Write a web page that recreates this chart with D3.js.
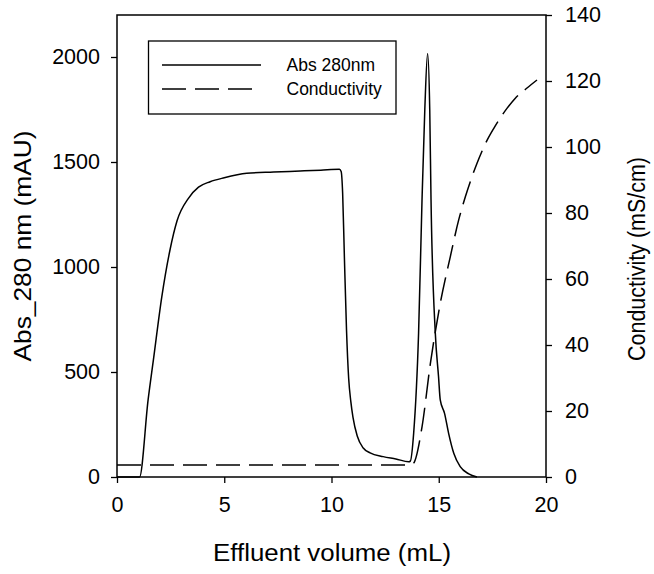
<!DOCTYPE html>
<html lang="en">
<head>
<meta charset="UTF-8">
<title>Abs 280 and conductivity vs effluent volume</title>
<script src="https://d3js.org/d3.v7.min.js"></script>
<style>
  body { margin: 0; background: #fff; }
  svg { display: block; font-family: "Liberation Sans", Arial, sans-serif; }
  .tick text { font-size: 21.5px; fill: #000; }
  .tick line { stroke: #000; stroke-width: 1.3; }
  .domain { display: none; }
</style>
</head>
<body>
<svg width="654" height="574"></svg>
<script>
  // effluent volume (mL) / absorbance (mAU)
  const absVolume = [0, 1.05, 1.45, 1.7, 2.09, 2.47, 2.8, 3.33, 3.8, 4.34, 5, 6.05, 7.3, 8.54, 9.5, 10.37,
    10.45, 10.52, 10.6, 10.7, 10.8, 10.9, 11.0, 11.2, 11.48, 11.8, 12.41, 13.0, 13.6,
    13.67, 13.83, 14.06, 14.22, 14.35, 14.48, 14.58, 14.64, 14.84, 14.99, 15.07, 15.27, 15.46, 15.7, 16.0, 16.4, 16.78];
  const absValue = [0, 0, 367, 560, 859, 1081, 1220, 1327, 1380, 1406, 1425, 1446, 1452, 1457, 1461, 1465,
    1455, 1350, 1050, 700, 470, 360, 285, 195, 138, 115, 97, 86, 73,
    75, 208, 686, 1319, 1750, 2017, 1750, 1319, 684, 478, 367, 303, 208, 113, 49, 15, 0];

  // effluent volume (mL) / conductivity (mS/cm)
  const condVolume = [0, 5, 10, 13.45, 13.7, 13.83, 14.22, 14.61, 15.07, 15.54, 15.93, 16.24, 16.78, 17.25, 17.56, 18.18, 18.57, 19.1, 19.58];
  const condValue = [3.6, 3.6, 3.6, 3.6, 3.7, 4.2, 15.2, 34.4, 52.6, 66.8, 77.9, 84.9, 95, 102, 105.6, 111.7, 114.8, 117.8, 120.3];

  const xTicks = [0, 5, 10, 15, 20];
  const leftTicks = [0, 500, 1000, 1500, 2000];
  const rightTicks = [0, 20, 40, 60, 80, 100, 120, 140];

  const svg = d3.select('svg');
  const plotLeft = 117, plotRight = 546, plotTop = 15, plotBottom = 477;

  const x = d3.scaleLinear().domain([0, 20]).range([plotLeft, plotRight]);
  const yAbs = d3.scaleLinear().domain([0, 2200]).range([plotBottom, plotTop]);
  const yCond = d3.scaleLinear().domain([0, 140]).range([plotBottom, plotTop]);

  svg.append('g')
    .attr('transform', `translate(0,${plotBottom})`)
    .call(d3.axisBottom(x).tickValues(xTicks).tickFormat(d3.format('d'))
      .tickSize(6).tickSizeOuter(0).tickPadding(14));

  svg.append('g')
    .attr('transform', `translate(${plotLeft},0)`)
    .call(d3.axisLeft(yAbs).tickValues(leftTicks).tickFormat(d3.format('d'))
      .tickSize(6).tickSizeOuter(0).tickPadding(11));

  svg.append('g')
    .attr('transform', `translate(${plotRight},0)`)
    .call(d3.axisRight(yCond).tickValues(rightTicks).tickFormat(d3.format('d'))
      .tickSize(6).tickSizeOuter(0).tickPadding(13));

  // frame
  svg.append('rect')
    .attr('x', plotLeft).attr('y', plotTop)
    .attr('width', plotRight - plotLeft).attr('height', plotBottom - plotTop)
    .attr('fill', 'none').attr('stroke', '#000').attr('stroke-width', 1.5);

  const absLine = d3.line()
    .x((d, i) => x(absVolume[i]))
    .y((d) => yAbs(d))
    .curve(d3.curveMonotoneX);

  const condLine = d3.line()
    .x((d, i) => x(condVolume[i]))
    .y((d) => yCond(d))
    .curve(d3.curveMonotoneX);

  svg.append('path')
    .attr('d', absLine(absValue))
    .attr('fill', 'none').attr('stroke', '#000').attr('stroke-width', 1.5);

  svg.append('path')
    .attr('d', condLine(condValue))
    .attr('fill', 'none').attr('stroke', '#000').attr('stroke-width', 1.5)
    .attr('stroke-dasharray', '24,9');

  // legend
  const legend = svg.append('g');
  legend.append('rect')
    .attr('x', 148.5).attr('y', 41).attr('width', 247.5).attr('height', 73)
    .attr('fill', '#fff').attr('stroke', '#000').attr('stroke-width', 1.3);
  legend.append('line')
    .attr('x1', 162).attr('x2', 261).attr('y1', 65).attr('y2', 65)
    .attr('stroke', '#000').attr('stroke-width', 1.3);
  legend.append('line')
    .attr('x1', 162).attr('x2', 261).attr('y1', 89).attr('y2', 89)
    .attr('stroke', '#000').attr('stroke-width', 1.3)
    .attr('stroke-dasharray', '24,9');
  legend.append('text')
    .attr('x', 286.5).attr('y', 71)
    .attr('font-size', 17.5)
    .text('Abs 280nm');
  legend.append('text')
    .attr('x', 286.5).attr('y', 95)
    .attr('font-size', 17.5)
    .text('Conductivity');

  // axis titles
  svg.append('text')
    .attr('x', 332).attr('y', 561)
    .attr('text-anchor', 'middle')
    .attr('font-size', 23.5)
    .attr('textLength', 238)
    .attr('lengthAdjust', 'spacingAndGlyphs')
    .text('Effluent volume (mL)');

  svg.append('text')
    .attr('transform', 'translate(31,246) rotate(-90)')
    .attr('text-anchor', 'middle')
    .attr('font-size', 24)
    .attr('textLength', 231)
    .attr('lengthAdjust', 'spacingAndGlyphs')
    .text('Abs_280 nm (mAU)');

  svg.append('text')
    .attr('transform', 'translate(645,259) rotate(-90)')
    .attr('text-anchor', 'middle')
    .attr('font-size', 23.5)
    .attr('textLength', 204)
    .attr('lengthAdjust', 'spacingAndGlyphs')
    .text('Conductivity (mS/cm)');
</script>
</body>
</html>
